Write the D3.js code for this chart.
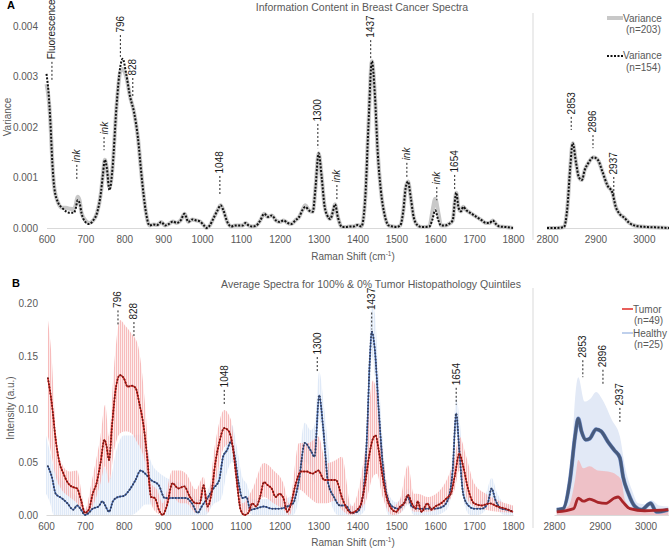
<!DOCTYPE html>
<html><head><meta charset="utf-8">
<script src="https://cdn.jsdelivr.net/npm/d3@7"></script>
<style>body{margin:0;background:#fff}</style>
</head><body><svg id="c" width="669" height="550"></svg>
<script>
// ---------- Panel A data ----------
const aX = [600,605,610,615,620,630,640,650,660,670,675,680,685,690,700,710,720,730,740,745,750,755,762,770,780,790,796,805,815,825,835,845,855,865,875,885,895,905,915,925,935,945,955,965,975,985,995,1005,1012,1020,1030,1040,1048,1055,1065,1075,1085,1095,1105,1112,1120,1130,1140,1150,1160,1170,1180,1190,1200,1210,1220,1230,1240,1250,1258,1266,1275,1285,1292,1300,1308,1315,1322,1330,1336,1342,1350,1360,1370,1380,1390,1400,1410,1420,1428,1437,1445,1452,1460,1470,1480,1490,1500,1510,1518,1524,1530,1537,1545,1555,1565,1575,1585,1592,1600,1608,1615,1625,1635,1645,1650,1654,1660,1666,1672,1680,1690,1700,1710,1720,1730,1740,1748,1756,1765,1780,1800];
const aVar154 = [0.00305,0.0027,0.0021,0.0013,0.0008,0.0005,0.0004,0.00033,0.0003,0.0003,0.00038,0.00055,0.0005,0.0003,0.00012,0.00008,0.00015,0.0003,0.0007,0.00105,0.00135,0.0012,0.00075,0.0012,0.0024,0.0032,0.00335,0.00305,0.0026,0.0023,0.0018,0.001,0.00035,0.00005,0.00007,0.00006,0.00012,0.00005,0.00008,0.00013,0.0001,0.00015,0.00028,0.00012,0.00017,0.00015,0.00013,0.00005,0,0.00005,0.0002,0.00035,0.00045,0.00035,0.00012,0.00003,0.00005,0.00005,0.00005,0.0001,0.00005,0.00003,0.00005,0.00015,0.00028,0.00022,0.00025,0.00015,0.00012,0.00015,0.0001,0.00008,0.00015,0.00022,0.00035,0.00042,0.00035,0.00032,0.0008,0.00148,0.001,0.00045,0.00025,0.00018,0.0003,0.00047,0.0002,0.00002,0.00002,0.00003,0.00003,0.00006,0.00003,0.0006,0.002,0.0033,0.0026,0.0015,0.00075,0.00025,0.00005,0.00003,0.00002,0.00005,0.00035,0.0008,0.00092,0.0006,0.0002,0.00005,0.00002,0.00002,0.00003,0.00015,0.00035,0.00015,0.00005,0.00005,0.00008,0.00015,0.0005,0.0007,0.0004,0.00033,0.00042,0.00035,0.0003,0.00025,0.0002,0.00015,0.0001,0.0001,0.00015,0.00008,0.00003,0.00002,0];
const aVar203 = [0.00285,0.0026,0.0021,0.0013,0.0008,0.0005,0.0004,0.0004,0.00038,0.00037,0.00045,0.00062,0.00055,0.0003,0.00015,0.0001,0.00015,0.0003,0.0007,0.00105,0.00135,0.0012,0.0008,0.0012,0.0024,0.0031,0.00315,0.003,0.0026,0.0023,0.0018,0.001,0.00035,0.00005,0.00007,0.00006,0.00012,0.00005,0.00008,0.00013,0.0001,0.00015,0.00028,0.00012,0.00017,0.00015,0.00013,0.00005,0,0.00005,0.0002,0.00035,0.00045,0.00035,0.00012,0.00003,0.00005,0.00005,0.00005,0.0001,0.00005,0.00003,0.00005,0.00015,0.00028,0.00022,0.00025,0.00015,0.00012,0.00015,0.0001,0.00008,0.00015,0.00022,0.00035,0.00045,0.00035,0.00032,0.0008,0.00148,0.001,0.00045,0.00025,0.00018,0.0003,0.00047,0.0002,0.00002,0.00002,0.00003,0.00003,0.00006,0.00003,0.0006,0.002,0.0033,0.0026,0.0015,0.00075,0.00025,0.00005,0.00003,0.00002,0.00005,0.00035,0.0008,0.00092,0.0006,0.0002,0.00005,0.00002,0.00002,0.00003,0.0003,0.00058,0.0003,0.00005,0.00005,0.00008,0.00015,0.0005,0.0007,0.0004,0.00033,0.00042,0.00035,0.0003,0.00025,0.0002,0.00015,0.0001,0.0001,0.00015,0.00008,0.00003,0.00002,0];
const aRX = [2800,2820,2835,2842,2848,2853,2860,2866,2872,2878,2885,2896,2905,2915,2925,2935,2942,2950,2960,2970,2985,3005,3030,3052];
const aRVar154 = [0,0,0.00002,0.0004,0.0012,0.00168,0.00129,0.001,0.00095,0.00115,0.00128,0.0014,0.00135,0.0011,0.00084,0.0007,0.00042,0.00028,0.0002,0.0001,0.00004,0.00002,0.00001,0];
const aRVar203 = [0,0,0.00002,0.0004,0.0012,0.00168,0.00129,0.001,0.00095,0.00115,0.00128,0.0014,0.00135,0.0011,0.00084,0.0007,0.00042,0.00028,0.0002,0.0001,0.00004,0.00002,0.00001,0];
const aTicksY = [0,0.001,0.002,0.003,0.004];
const xTicksMain = [600,700,800,900,1000,1100,1200,1300,1400,1500,1600,1700,1800];
const xTicksRight = [2800,2900,3000];

const annoALabels = ["Fluorescence","ink","ink","796","828","1048","1300","ink","1437","ink","ink","1654"];
const annoAShift  = [614,678,748,790,822,1046,1298,1347,1434,1527,1604,1650];
const annoATip    = [0.00293,0.00095,0.00154,0.00339,0.00259,0.00065,0.00158,0.00055,0.00333,0.00099,0.00055,0.00075];
const annoATop    = [0.00329,0.00125,0.0018,0.00382,0.00297,0.00103,0.00206,0.00085,0.00372,0.00129,0.00081,0.00105];
const annoARLabels = ["2853","2896","2937"];
const annoARShift  = [2850,2895,2938];
const annoARTip    = [0.00194,0.00158,0.00065];
const annoARTop    = [0.0022,0.00184,0.00101];

// ---------- Panel B data ----------
const tumorX = [605,615,625,635,645,655,665,680,690,700,710,720,730,740,750,755,762,770,780,790,800,810,820,830,840,850,860,870,880,890,900,910,925,940,955,970,985,995,1005,1015,1025,1035,1045,1058,1070,1080,1090,1100,1110,1120,1130,1140,1150,1160,1170,1180,1190,1200,1210,1220,1230,1240,1255,1270,1285,1300,1315,1330,1345,1360,1370,1385,1400,1410,1420,1430,1440,1447,1455,1465,1475,1490,1500,1510,1520,1530,1540,1550,1555,1565,1580,1590,1600,1615,1630,1640,1650,1662,1672,1685,1700,1720,1740,1760,1780,1800];
const tumorY = [0.129,0.105,0.071,0.049,0.039,0.031,0.027,0.025,0.014,0.002,0.005,0.02,0.03,0.049,0.071,0.066,0.052,0.086,0.121,0.132,0.129,0.121,0.122,0.12,0.105,0.086,0.055,0.017,0.016,0.005,0,0.008,0.03,0.025,0.027,0.017,0.011,0.011,0.028,0.008,0.02,0.049,0.068,0.082,0.079,0.064,0.033,0.005,0,0.002,0.011,0.008,0.017,0.031,0.028,0.025,0.017,0.02,0.016,0.003,0.011,0.027,0.041,0.041,0.039,0.042,0.033,0.033,0.033,0.017,0.008,0.002,0.005,0.011,0.03,0.055,0.072,0.075,0.061,0.036,0.017,0.005,0.003,0.008,0.011,0.019,0.011,0.006,0.013,0.003,0.011,0.005,0.008,0.011,0.016,0.02,0.036,0.058,0.046,0.024,0.011,0.009,0.011,0.008,0.006,0.003];
const healthyX = [605,615,625,640,655,670,680,690,700,710,720,735,745,752,762,772,785,800,815,830,843,855,870,890,905,920,940,960,975,990,1000,1015,1030,1045,1055,1065,1075,1085,1095,1105,1115,1125,1140,1160,1180,1200,1220,1235,1250,1265,1280,1290,1302,1312,1325,1340,1355,1370,1385,1400,1415,1425,1432,1437,1445,1455,1465,1475,1490,1505,1520,1530,1540,1560,1580,1600,1620,1635,1645,1654,1662,1672,1685,1700,1720,1735,1745,1755,1770,1785,1800];
const healthyY = [0.046,0.036,0.02,0.016,0.011,0.005,0.009,0.005,0,0.002,0.006,0.008,0.013,0.009,0.003,0.013,0.017,0.018,0.024,0.033,0.042,0.039,0.033,0.028,0.016,0.016,0.016,0.016,0.011,0.002,0.008,0.016,0.025,0.033,0.055,0.061,0.069,0.055,0.03,0.016,0.017,0.005,0.006,0.008,0.006,0.006,0.008,0.011,0.033,0.068,0.061,0.055,0.113,0.083,0.03,0.017,0.009,0.009,0.002,0.003,0.02,0.077,0.146,0.173,0.156,0.099,0.049,0.02,0.008,0.006,0.011,0.017,0.008,0.006,0.006,0.006,0.008,0.017,0.042,0.096,0.061,0.02,0.009,0.006,0.006,0.011,0.025,0.014,0.006,0.005,0.003];
const tumorBandX = [605,615,625,640,660,680,690,700,720,740,752,762,775,790,805,820,835,845,855,870,885,900,925,945,960,985,1005,1015,1035,1058,1075,1090,1105,1130,1160,1185,1210,1225,1250,1275,1300,1320,1345,1360,1385,1420,1440,1450,1465,1490,1510,1530,1545,1555,1580,1620,1650,1662,1680,1700,1730,1760,1800];
const tumorUpper = [0.184,0.146,0.08,0.049,0.041,0.042,0.024,0.005,0.036,0.074,0.104,0.074,0.14,0.184,0.178,0.171,0.162,0.14,0.102,0.03,0.024,0.011,0.042,0.042,0.039,0.024,0.036,0.016,0.068,0.099,0.09,0.046,0.011,0.024,0.049,0.042,0.03,0.011,0.068,0.068,0.074,0.049,0.052,0.055,0.008,0.061,0.127,0.115,0.061,0.008,0.015,0.047,0.02,0.02,0.017,0.027,0.055,0.074,0.055,0.03,0.02,0.014,0.009];
const tumorLower = [0.074,0.055,0.036,0.024,0.017,0.011,0.005,0,0.008,0.03,0.046,0.03,0.061,0.077,0.079,0.077,0.068,0.061,0.049,0.011,0.002,0,0.017,0.011,0.011,0.002,0.017,0.002,0.03,0.064,0.068,0.024,0,0.005,0.017,0.011,0.005,0,0.024,0.017,0.011,0.011,0.014,0.005,0,0.011,0.036,0.039,0.017,0,0.002,0.011,0.003,0.003,0.003,0.008,0.024,0.042,0.017,0.008,0.005,0.003,0.002];
const healthyBandX = [600,610,620,635,650,670,690,700,715,735,750,765,780,800,820,840,855,870,890,910,930,950,970,990,1010,1030,1050,1065,1078,1090,1105,1115,1130,1150,1180,1210,1235,1250,1265,1280,1290,1302,1315,1330,1350,1370,1390,1405,1420,1430,1437,1445,1455,1465,1480,1500,1520,1530,1545,1570,1600,1630,1645,1654,1664,1675,1690,1710,1730,1745,1760,1780,1800];
const healthyUpper = [0.075,0.06,0.045,0.035,0.03,0.02,0.015,0.005,0.015,0.03,0.045,0.035,0.06,0.075,0.075,0.076,0.07,0.05,0.04,0.035,0.032,0.03,0.025,0.015,0.02,0.035,0.05,0.07,0.085,0.065,0.035,0.03,0.015,0.015,0.015,0.015,0.02,0.055,0.087,0.08,0.085,0.135,0.1,0.05,0.025,0.018,0.008,0.01,0.04,0.15,0.2,0.19,0.13,0.07,0.02,0.012,0.02,0.025,0.015,0.012,0.012,0.015,0.06,0.11,0.085,0.03,0.015,0.012,0.02,0.035,0.02,0.01,0.008];
const healthyLower = [0.02,0.012,0,0,0,0,0,0,0,0,0,0,0,0,0,0.005,0.01,0.01,0.01,0,0,0,0,0,0,0.01,0.015,0.04,0.05,0.04,0,0.005,0,0,0,0,0,0.015,0.05,0.045,0.03,0.09,0.06,0.015,0,0,0,0,0.005,0.09,0.15,0.13,0.07,0.03,0,0,0.005,0.01,0,0,0,0.005,0.03,0.08,0.04,0.01,0,0,0.005,0.015,0.005,0,0];
const bRHealthyX = [2806,2820,2835,2846,2853,2860,2869,2878,2892,2903,2918,2932,2944,2951,2962,2977,2991,3011,3024,3049];
const bRHealthyY = [0.005,0.006,0.033,0.074,0.091,0.079,0.071,0.072,0.081,0.079,0.069,0.061,0.054,0.036,0.021,0.008,0.005,0.011,0.003,0.005];
const bRTumorX = [2806,2843,2853,2864,2878,2896,2914,2932,2940,2951,2966,2998,3050];
const bRTumorY = [0.003,0.006,0.016,0.013,0.015,0.012,0.011,0.016,0.017,0.012,0.006,0.004,0.005];
const bRHealthyBandX = [2806,2825,2831,2839,2846,2853,2867,2880,2892,2907,2926,2944,2955,2970,2984,3000,3013,3030,3050];
const bRHealthyUpper = [0.005,0.006,0.016,0.058,0.11,0.13,0.107,0.11,0.116,0.108,0.09,0.074,0.046,0.024,0.011,0.01,0.014,0.009,0.008];
const bRTumorBandX = [2806,2831,2846,2853,2864,2878,2896,2918,2936,2947,2955,2970,3000,3050];
const bRTumorUpper = [0.004,0.008,0.033,0.052,0.044,0.046,0.042,0.041,0.038,0.033,0.014,0.007,0.005,0.005];
const bTicksY = [0,0.05,0.1,0.15,0.2];

const annoBLabels = ["796","828","1048","1300","1437","1654"];
const annoBShift  = [785,826,1058,1297,1437,1654];
const annoBTip    = [0.179,0.168,0.104,0.135,0.175,0.104];
const annoBTop    = [0.193,0.182,0.118,0.149,0.191,0.12];
const annoBRLabels = ["2853","2896","2937"];
const annoBRShift  = [2863,2907,2944];
const annoBRTip    = [0.13,0.123,0.088];
const annoBRTop    = [0.146,0.137,0.101];

// ---------- Drawing ----------
const FONT = '"Liberation Sans", Arial, Helvetica, sans-serif';
const GREY = "#595959";
const svg = d3.select("#c").attr("font-family", FONT);

const xA  = d3.scaleLinear().domain([600,1800]).range([46.5,513]);
const xAR = d3.scaleLinear().domain([2800,3052]).range([547,669]);
const yA  = d3.scaleLinear().domain([0,0.004]).range([228,26]);
const xB  = d3.scaleLinear().domain([600,1800]).range([46,513]);
const xBR = d3.scaleLinear().domain([2800,3050]).range([554,668.4]);
const yB  = d3.scaleLinear().domain([0,0.2]).range([515,303]);

const defs = svg.append("defs");
function stripe(id, base, col) {
  const p = defs.append("pattern").attr("id", id).attr("width", 2).attr("height", 6).attr("patternUnits","userSpaceOnUse");
  p.append("rect").attr("width",2).attr("height",6).attr("fill",base);
  p.append("rect").attr("width",1).attr("height",6).attr("fill",col);
}
stripe("redStripe", "rgba(252,222,222,0.55)", "rgba(242,140,140,0.5)");
stripe("blueStripe", "rgba(238,243,251,0.75)", "rgba(216,228,246,0.75)");

function lineGen(xs, ys, sx, sy) {
  return d3.line().x(i => sx(xs[i])).y(i => sy(ys[i])).curve(d3.curveMonotoneX)(d3.range(xs.length));
}
function areaGen(xs, lo, hi, sx, sy) {
  return d3.area().x(i => sx(xs[i])).y0(i => lo ? sy(lo[i]) : sy(0)).y1(i => sy(hi[i])).curve(d3.curveMonotoneX)(d3.range(xs.length));
}
function xAxis(scale, y, ticks) {
  const g = svg.append("g").attr("transform", `translate(0,${y})`)
    .call(d3.axisBottom(scale).tickValues(ticks).tickSize(0).tickPadding(7.5).tickFormat(d3.format("d")));
  g.attr("font-family", FONT).attr("font-size", 10);
  g.select(".domain").attr("stroke", "#d9d9d9");
  g.selectAll("text").attr("fill", GREY);
}
function yAxis(scale, x, ticks, fmt) {
  const g = svg.append("g").attr("transform", `translate(${x},0)`)
    .call(d3.axisLeft(scale).tickValues(ticks).tickSize(0).tickPadding(6).tickFormat(d3.format(fmt)));
  g.attr("font-family", FONT).attr("font-size", 10);
  g.select(".domain").remove();
  g.selectAll("text").attr("fill", GREY);
}
function annotate(labels, xs, tips, tops, sx, sy) {
  labels.forEach((lab, i) => {
    const x = sx(xs[i]);
    svg.append("line").attr("x1", x).attr("x2", x).attr("y1", sy(tops[i])).attr("y2", sy(tips[i]))
      .attr("stroke", "#222").attr("stroke-width", 1).attr("stroke-dasharray", "2,2");
    svg.append("text").attr("transform", `translate(${x},${sy(tops[i]) - 2.5}) rotate(-90)`)
      .attr("dy", "0.35em").attr("font-size", 10).attr("fill", "#1a1a1a")
      .attr("font-style", lab === "ink" ? "italic" : "normal").text(lab);
  });
}
function superLabel(x, y, size) {
  const t = svg.append("text").attr("x", x).attr("y", y).attr("text-anchor", "middle")
    .attr("font-size", size).attr("fill", GREY);
  t.append("tspan").text("Raman Shift (cm");
  t.append("tspan").attr("font-size", size * 0.65).attr("dy", -4).text("-1");
  t.append("tspan").attr("dy", 4).text(")");
}

// ---- Panel A ----
svg.append("text").attr("x", 7).attr("y", 9).attr("font-weight", "bold").attr("font-size", 11).text("A");
svg.append("text").attr("x", 362).attr("y", 11).attr("text-anchor", "middle").attr("font-size", 10.5).attr("fill", GREY)
  .text("Information Content in Breast Cancer Spectra");
svg.append("line").attr("x1", 533).attr("x2", 533).attr("y1", 13).attr("y2", 240).attr("stroke", "#d9d9d9");
yAxis(yA, 44, aTicksY, ".3f");
xAxis(xA, 228, xTicksMain);
xAxis(xAR, 228, xTicksRight);
svg.append("text").attr("transform", "translate(11,117) rotate(-90)").attr("text-anchor", "middle")
  .attr("font-size", 10).attr("fill", GREY).text("Variance");
superLabel(353, 260, 10);

svg.append("path").attr("d", lineGen(aX, aVar203, xA, yA)).attr("fill", "none").attr("stroke", "#c8c8c8").attr("stroke-width", 4);
svg.append("path").attr("d", lineGen(aRX, aRVar203, xAR, yA)).attr("fill", "none").attr("stroke", "#c8c8c8").attr("stroke-width", 4);
svg.append("path").attr("d", lineGen(aX, aVar154, xA, yA)).attr("fill", "none").attr("stroke", "#111").attr("stroke-width", 2).attr("stroke-dasharray", "2,1.5");
svg.append("path").attr("d", lineGen(aRX, aRVar154, xAR, yA)).attr("fill", "none").attr("stroke", "#111").attr("stroke-width", 2).attr("stroke-dasharray", "2,1.5");
annotate(annoALabels, annoAShift, annoATip, annoATop, xA, yA);
annotate(annoARLabels, annoARShift, annoARTip, annoARTop, xAR, yA);

// legend A
svg.append("line").attr("x1", 607).attr("x2", 623).attr("y1", 18).attr("y2", 18).attr("stroke", "#c8c8c8").attr("stroke-width", 4);
svg.append("text").attr("x", 623).attr("y", 21.5).attr("font-size", 10).attr("fill", GREY).text("Variance");
svg.append("text").attr("x", 626).attr("y", 33).attr("font-size", 10).attr("fill", GREY).text("(n=203)");
svg.append("line").attr("x1", 607).attr("x2", 623).attr("y1", 56).attr("y2", 56).attr("stroke", "#111").attr("stroke-width", 2).attr("stroke-dasharray", "2,1.5");
svg.append("text").attr("x", 623).attr("y", 59).attr("font-size", 10).attr("fill", GREY).text("Variance");
svg.append("text").attr("x", 626).attr("y", 70.5).attr("font-size", 10).attr("fill", GREY).text("(n=154)");

// ---- Panel B ----
svg.append("text").attr("x", 12).attr("y", 287).attr("font-weight", "bold").attr("font-size", 11).text("B");
svg.append("text").attr("x", 371).attr("y", 288).attr("text-anchor", "middle").attr("font-size", 10.5).attr("fill", GREY)
  .text("Average Spectra for 100% & 0% Tumor Histopathology Quintiles");
svg.append("line").attr("x1", 533).attr("x2", 533).attr("y1", 288).attr("y2", 528).attr("stroke", "#d9d9d9");
yAxis(yB, 44, bTicksY, ".2f");
xAxis(xB, 515, xTicksMain);
xAxis(xBR, 515, xTicksRight);
svg.append("text").attr("transform", "translate(14,408) rotate(-90)").attr("text-anchor", "middle")
  .attr("font-size", 10).attr("fill", GREY).text("Intensity (a.u.)");
superLabel(353, 546, 10);

// bands
svg.append("path").attr("d", areaGen(healthyBandX, healthyLower, healthyUpper, xB, yB)).attr("fill", "url(#blueStripe)");
svg.append("path").attr("d", areaGen(tumorBandX, tumorLower, tumorUpper, xB, yB)).attr("fill", "url(#redStripe)");
svg.append("path").attr("d", areaGen(bRHealthyBandX, null, bRHealthyUpper, xBR, yB)).attr("fill", "#e2e9f6");
svg.append("path").attr("d", areaGen(bRTumorBandX, null, bRTumorUpper, xBR, yB)).attr("fill", "rgba(248,160,160,0.55)");

// mean lines (main)
svg.append("path").attr("d", lineGen(healthyX, healthyY, xB, yB)).attr("fill", "none").attr("stroke", "#4a72c0").attr("stroke-width", 1.4);
svg.append("path").attr("d", lineGen(healthyX, healthyY, xB, yB)).attr("fill", "none").attr("stroke", "#34405e").attr("stroke-width", 2).attr("stroke-linecap", "round").attr("stroke-dasharray", "0.1,3");
svg.append("path").attr("d", lineGen(tumorX, tumorY, xB, yB)).attr("fill", "none").attr("stroke", "#e02a24").attr("stroke-width", 1.4);
svg.append("path").attr("d", lineGen(tumorX, tumorY, xB, yB)).attr("fill", "none").attr("stroke", "#7a1a16").attr("stroke-width", 2).attr("stroke-linecap", "round").attr("stroke-dasharray", "0.1,3");

// mean lines (right)
svg.append("path").attr("d", lineGen(bRHealthyX, bRHealthyY, xBR, yB)).attr("fill", "none").attr("stroke", "#6f8cc6").attr("stroke-width", 4);
svg.append("path").attr("d", lineGen(bRHealthyX, bRHealthyY, xBR, yB)).attr("fill", "none").attr("stroke", "#475a7c").attr("stroke-width", 3);
svg.append("path").attr("d", lineGen(bRTumorX, bRTumorY, xBR, yB)).attr("fill", "none").attr("stroke", "#a8262a").attr("stroke-width", 2.8);

annotate(annoBLabels, annoBShift, annoBTip, annoBTop, xB, yB);
annotate(annoBRLabels, annoBRShift, annoBRTip, annoBRTop, xBR, yB);

// legend B
svg.append("line").attr("x1", 622).attr("x2", 633).attr("y1", 309).attr("y2", 309).attr("stroke", "#e02a24").attr("stroke-width", 1.5);
svg.append("text").attr("x", 633).attr("y", 312.5).attr("font-size", 10).attr("fill", GREY).text("Tumor");
svg.append("text").attr("x", 634).attr("y", 324).attr("font-size", 10).attr("fill", GREY).text("(n=49)");
svg.append("line").attr("x1", 622).attr("x2", 633).attr("y1", 333).attr("y2", 333).attr("stroke", "#aac0e6").attr("stroke-width", 1.5);
svg.append("text").attr("x", 633).attr("y", 336.5).attr("font-size", 10).attr("fill", GREY).text("Healthy");
svg.append("text").attr("x", 634).attr("y", 348).attr("font-size", 10).attr("fill", GREY).text("(n=25)");
</script></body></html>
